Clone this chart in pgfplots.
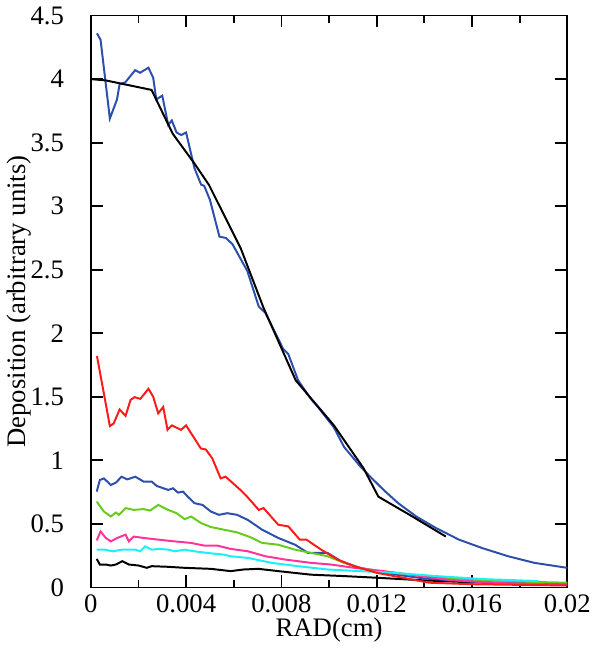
\documentclass[border=0pt]{standalone}
\usepackage{fontspec}
\setmainfont{Liberation Serif}
\usepackage{pgfplots}
\pgfplotsset{compat=1.18}
\definecolor{cblue}{HTML}{2C4FAE}
\definecolor{cred}{HTML}{FF1A1A}
\definecolor{cgreen}{HTML}{66CC1A}
\definecolor{cpink}{HTML}{FF3399}
\definecolor{ccyan}{HTML}{1AF0F5}

\begin{document}
\begin{tikzpicture}
\begin{axis}[
  scale only axis,
  width=240bp, height=288bp,
  xmin=0, xmax=0.02, ymin=0, ymax=4.5,
  scaled x ticks=false,
  xtick={0,0.004,0.008,0.012,0.016,0.02},
  xticklabels={0,0.004,0.008,0.012,0.016,0.02},
  minor xtick={0.002,0.006,0.01,0.014,0.018},
  ytick={0,0.5,1,1.5,2,2.5,3,3.5,4,4.5},
  yticklabels={0,0.5,1,1.5,2,2.5,3,3.5,4,4.5},
  tick align=inside,
  major tick length=6bp, minor tick length=3.5bp,
  every tick/.style={black, line width=0.9pt},
  axis line style={line width=0.9pt},
  xlabel={RAD(cm)}, ylabel={Deposition (arbitrary units)},
  xlabel style={yshift=4pt},
  ylabel style={yshift=-7bp},
  tick label style={font=\fontsize{13.5}{15}\selectfont},
  yticklabel style={xshift=-10bp},
  label style={font=\fontsize{13.5}{15}\selectfont},
  /pgf/number format/assume math mode=true,
  every axis plot/.append style={line width=1pt, mark=none},
]
% top pair
\addplot[cblue] coordinates {
(0.00026,4.36)(0.00041,4.31)(0.0008,3.69)(0.0011,3.84)(0.00121,3.96)(0.00145,3.975)
(0.00186,4.07)(0.00207,4.05)(0.00242,4.09)(0.00262,4.01)(0.00275,3.84)(0.003,3.87)
(0.00325,3.64)(0.0034,3.675)(0.0036,3.58)(0.0038,3.56)(0.004,3.58)(0.00435,3.30)
(0.00463,3.17)(0.00476,3.16)(0.005,3.05)(0.0054,2.76)(0.00567,2.75)(0.00595,2.70)
(0.00657,2.49)(0.00705,2.21)(0.00733,2.16)(0.00808,1.875)(0.00829,1.836)(0.0087,1.63)
(0.00925,1.48)(0.00953,1.42)(0.0102,1.26)(0.01063,1.105)(0.01132,0.95)(0.01173,0.871)
(0.01229,0.767)(0.0129,0.663)(0.01366,0.558)(0.01449,0.467)(0.01545,0.376)(0.01642,0.31)
(0.01752,0.245)(0.01862,0.193)(0.02,0.154)
};
\addplot[black] coordinates {
(0,4.0)(0.00062,3.99)(0.00255,3.915)(0.00344,3.57)(0.00435,3.336)(0.00496,3.167)
(0.00629,2.67)(0.00725,2.20)(0.0086,1.63)(0.0102,1.276)(0.01145,0.937)(0.01207,0.714)
(0.01338,0.571)(0.0149,0.40)
};
% lower curves
\addplot[black] coordinates {
(0.00025,0.224)(0.00038,0.18)(0.00063,0.18)(0.00084,0.172)(0.00105,0.18)(0.00132,0.206)
(0.0016,0.18)(0.00201,0.172)(0.00235,0.154)(0.00256,0.167)(0.00325,0.162)(0.00394,0.154)
(0.00504,0.146)(0.00587,0.128)(0.00642,0.141)(0.00704,0.146)(0.00787,0.128)(0.00925,0.10)
(0.01063,0.089)(0.012,0.076)(0.014,0.055)(0.016,0.04)(0.02,0.025)
};
\addplot[cblue] coordinates {
(0.00025,0.754)(0.00038,0.845)(0.00055,0.858)(0.00084,0.806)(0.00105,0.824)(0.00129,0.871)
(0.00153,0.85)(0.00187,0.871)(0.00222,0.832)(0.00256,0.832)(0.00277,0.798)(0.00325,0.767)
(0.00345,0.78)(0.00366,0.746)(0.00387,0.754)(0.00407,0.714)(0.00435,0.663)(0.00469,0.649)
(0.00504,0.597)(0.00538,0.571)(0.00573,0.584)(0.00614,0.571)(0.0066,0.53)(0.00719,0.454)
(0.00787,0.389)(0.00857,0.336)(0.00912,0.271)(0.00994,0.271)(0.0105,0.206)(0.0113,0.154)
(0.01228,0.115)(0.014,0.07)(0.016,0.045)(0.018,0.035)(0.02,0.03)
};
\addplot[cgreen] coordinates {
(0.00025,0.675)(0.00055,0.597)(0.00084,0.558)(0.00105,0.589)(0.00118,0.571)(0.00146,0.624)
(0.0018,0.61)(0.00222,0.616)(0.00249,0.605)(0.00283,0.649)(0.00325,0.61)(0.0036,0.584)
(0.00394,0.537)(0.00421,0.558)(0.00463,0.506)(0.00504,0.475)(0.00559,0.454)(0.00614,0.433)
(0.0067,0.395)(0.00719,0.35)(0.00787,0.336)(0.00857,0.297)(0.00925,0.271)(0.00994,0.245)
(0.01063,0.193)(0.0113,0.154)(0.012,0.133)(0.01339,0.10)(0.01476,0.076)(0.017,0.05)(0.02,0.037)
};
\addplot[cpink] coordinates {
(0.00025,0.37)(0.00041,0.44)(0.00063,0.389)(0.00084,0.362)(0.00111,0.389)(0.00146,0.415)
(0.0016,0.362)(0.0018,0.40)(0.00222,0.389)(0.00283,0.376)(0.00352,0.362)(0.00421,0.35)
(0.00476,0.329)(0.00531,0.329)(0.00587,0.303)(0.0066,0.284)(0.00733,0.245)(0.00816,0.219)
(0.00925,0.193)(0.01008,0.18)(0.01105,0.154)(0.01228,0.128)(0.0134,0.10)(0.015,0.06)
(0.017,0.035)(0.02,0.02)
};
\addplot[ccyan] coordinates {
(0.00025,0.297)(0.0006,0.297)(0.00091,0.284)(0.00132,0.297)(0.00187,0.297)(0.00207,0.284)
(0.00228,0.323)(0.00256,0.297)(0.0029,0.303)(0.00325,0.297)(0.00352,0.284)(0.00394,0.297)
(0.00435,0.284)(0.0049,0.271)(0.00559,0.258)(0.00587,0.245)(0.0066,0.232)(0.0076,0.193)
(0.0087,0.167)(0.00994,0.141)(0.0113,0.128)(0.0127,0.115)(0.0145,0.089)(0.0165,0.065)(0.0188,0.05)
};
\addplot[cred] coordinates {
(0.00026,1.82)(0.0008,1.27)(0.00096,1.29)(0.00121,1.40)(0.00146,1.35)(0.00167,1.476)
(0.00184,1.497)(0.00208,1.484)(0.00242,1.563)(0.00262,1.50)(0.00283,1.37)(0.00304,1.42)
(0.00322,1.24)(0.0034,1.275)(0.00379,1.24)(0.004,1.275)(0.00462,1.093)(0.00483,1.085)
(0.0051,1.015)(0.00545,0.858)(0.00566,0.871)(0.00628,0.767)(0.00656,0.714)(0.00705,0.61)
(0.00725,0.624)(0.00787,0.493)(0.00829,0.48)(0.00877,0.376)(0.00905,0.376)(0.00967,0.297)
(0.01036,0.219)(0.01105,0.167)(0.012,0.115)(0.0131,0.076)(0.0142,0.037)(0.016,0.025)
(0.018,0.02)(0.02,0.015)
};
\end{axis}
\end{tikzpicture}
\end{document}
